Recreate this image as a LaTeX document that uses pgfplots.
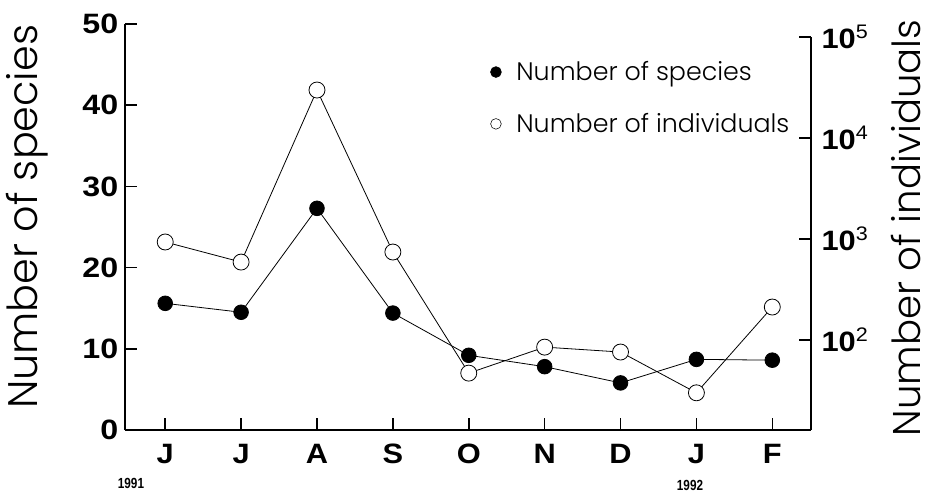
\documentclass[border=0pt]{standalone}
\usepackage{pgfplots}
\pgfplotsset{compat=1.18}
\usepackage{fontspec}
\setmainfont{Liberation Sans}
\newfontfamily\lightfont{Poppins Light}
\newcommand{\numfont}{\bfseries\fontsize{21}{21}\selectfont}
\begin{document}
\begin{tikzpicture}
\path[use as bounding box] (0,0) rectangle (699.75pt,370.5pt);
\begin{axis}[
  at={(93.75pt,48pt)}, anchor=south west,
  scale only axis, width=514.5pt, height=304.5pt,
  xmin=-0.53, xmax=8.51, ymin=0, ymax=50,
  axis x line*=bottom, axis y line*=left,
  axis line style={line width=1.3pt},
  every tick/.style={black, line width=1.2pt},
  tick align=inside, major tick length=9pt,
  xtick={0,...,8}, xticklabels={J,J,A,S,O,N,D,J,F},
  ytick={0,10,20,30,40,50}, yticklabels={0,10,20,30,40,50},
  tick label style={font=\numfont},
  xticklabel style={yshift=-7pt, xscale=1.1},
  yticklabel style={xshift=-1pt, xscale=1.15},
  ylabel={Number of species},
  ylabel style={font=\lightfont\fontsize{31}{31}\selectfont, at={(axis description cs:-0.143,0.525)}, anchor=center},
  legend style={at={(axis description cs:0.532,0.915)}, anchor=north west, draw=none, fill=none,
    font=\lightfont\fontsize{19}{19}\selectfont, row sep=19pt, inner sep=0pt},
  legend cell align=left,
  clip=false,
]
\addplot[black, line width=0.6pt, mark=*, mark size=5.5pt, mark options={fill=black},
  legend image code/.code={\draw[black, fill=black] (0.3cm,0cm) circle (4pt);}]
  coordinates {(0,15.6) (1,14.5) (2,27.3) (3,14.4) (4,9.2) (5,7.8) (6,5.8) (7,8.7) (8,8.6)};
\addlegendentry{\hspace{9pt}Number of species}
\addlegendimage{legend image code/.code={\draw[black, line width=0.4pt, fill=white] (0.3cm,0cm) circle (4pt);}}
\addlegendentry{\hspace{9pt}Number of individuals}
\end{axis}
\begin{axis}[
  at={(93.75pt,48pt)}, anchor=south west,
  scale only axis, width=514.5pt, height=294.75pt,
  xmin=-0.53, xmax=8.51, ymode=log, ymin=12.85, ymax=100000,
  axis y line*=right, axis x line=none,
  axis line style={line width=1.3pt},
  every tick/.style={black, line width=1.2pt},
  tick align=inside, major tick length=9pt,
  minor tick num=0, yminorticks=false,
  ytick={100,1000,10000,100000},
  yticklabels={{\textbf{10}\textsuperscript{\mdseries 2}},{\textbf{10}\textsuperscript{\mdseries 3}},{\textbf{10}\textsuperscript{\mdseries 4}},{\textbf{10}\textsuperscript{\mdseries 5}}},
  yticklabel style={font=\numfont, xshift=4pt, xscale=1.1},
  ylabel={Number of individuals},
  ylabel style={font=\lightfont\fontsize{29}{29}\selectfont, at={(axis description cs:1.139,0.514)}, anchor=center, rotate=0},
]
\addplot[black, line width=0.6pt, mark=*, mark size=6pt, mark options={fill=white, line width=0.6pt}]
  coordinates {(0,934) (1,591) (2,29850) (3,743) (4,47) (5,85) (6,76) (7,30) (8,212)};
\end{axis}
\node[font=\bfseries\fontsize{11}{11}\selectfont, xscale=0.8] at (98.25pt,8.25pt) {1991};
\node[font=\bfseries\fontsize{11}{11}\selectfont, xscale=0.8] at (517.5pt,6.5pt) {1992};
\end{tikzpicture}
\end{document}
